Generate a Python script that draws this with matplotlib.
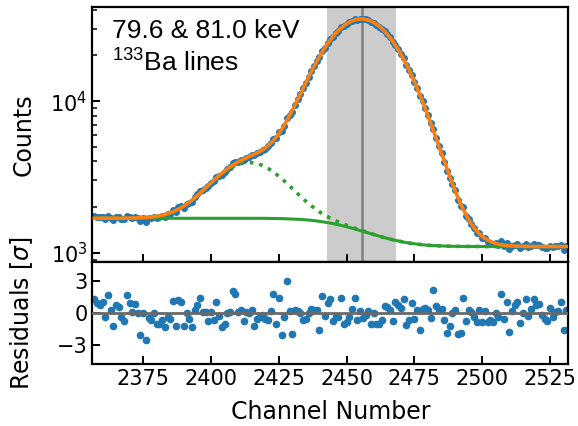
import numpy as np
import matplotlib.pyplot as plt

plt.rcParams['mathtext.fontset'] = 'custom'
plt.rcParams['mathtext.rm'] = 'Liberation Sans'

# channels 2357 ... 2531
channel = np.arange(2357, 2532)

# total fit (orange)
fit_total = np.array([1690] * 11 + [
    1692, 1693, 1694, 1696, 1697, 1700, 1702, 1706, 1711, 1716,
    1723, 1732, 1742, 1755, 1771, 1789, 1811, 1836, 1866, 1900,
    1940, 1985, 2036, 2093, 2156, 2226, 2304, 2388, 2478, 2573,
    2675, 2781, 2890, 3003, 3117, 3232, 3347, 3460, 3571, 3678,
    3780, 3878, 3972, 4059, 4143, 4224, 4302, 4382, 4466, 4555,
    4656, 4773, 4909, 5073, 5267, 5500, 5776, 6104, 6489, 6938,
    7452, 8041, 8707, 9454, 10285, 11198, 12192, 13267, 14417, 15639,
    16923, 18260, 19638, 21044, 22468, 23889, 25296, 26663, 27980, 29225,
    30383, 31437, 32369, 33167, 33818, 34309, 34635, 34791, 34772, 34578,
    34213, 33682, 32993, 32154, 31181, 30087, 28888, 27599, 26238, 24823,
    23369, 21896, 20418, 18952, 17511, 16107, 14752, 13454, 12222, 11059,
    9972, 8962, 8029, 7176, 6400, 5700, 5072, 4510, 4012, 3575,
    3191, 2858, 2572, 2324, 2113, 1934, 1784, 1657, 1551, 1464,
    1392, 1332, 1284, 1246, 1214, 1189, 1169, 1154, 1141, 1132,
    1124, 1118, 1114, 1110, 1108, 1106, 1104, 1103, 1102, 1101,
] + [1100] * 14, dtype=float)

# step background (green solid)
background = np.array([1690] * 56 + [
    1690, 1689, 1689, 1689, 1688, 1688, 1688, 1687, 1686, 1686,
    1685, 1683, 1682, 1680, 1679, 1676, 1674, 1671, 1668, 1664,
    1660, 1655, 1650, 1644, 1637, 1630, 1622, 1613, 1603, 1593,
    1582, 1571, 1558, 1545, 1531, 1517, 1502, 1486, 1470, 1454,
    1437, 1420, 1403, 1387, 1369, 1353, 1336, 1320, 1304, 1288,
    1273, 1259, 1245, 1232, 1219, 1208, 1197, 1187, 1177, 1168,
    1160, 1153, 1147, 1141, 1135, 1130, 1126, 1122, 1119, 1116,
    1114, 1112, 1110, 1108, 1107, 1105, 1104, 1104, 1103, 1102,
    1102, 1102, 1101, 1101, 1101, 1101,
] + [1100] * 33, dtype=float)

# background + 79.6 keV line (green dotted)
low_line = np.array([1690] * 11 + [
    1692, 1693, 1694, 1696, 1697, 1700, 1702, 1706, 1711, 1716,
    1723, 1732, 1742, 1755, 1771, 1789, 1811, 1836, 1866, 1900,
    1940, 1985, 2036, 2093, 2156, 2226, 2303, 2386, 2475, 2569,
    2669, 2773, 2880, 2989, 3099, 3208, 3315, 3419, 3517, 3609,
    3691, 3764, 3826, 3875, 3911, 3933, 3939, 3932, 3910, 3873,
    3824, 3762, 3688, 3605, 3513, 3414, 3308, 3200, 3089, 2978,
    2866, 2757, 2650, 2547, 2449, 2356, 2268, 2186, 2110, 2040,
    1976, 1917, 1863, 1813, 1769, 1728, 1692, 1657, 1626, 1596,
    1569, 1544, 1519, 1496, 1475, 1453, 1432, 1413, 1394, 1375,
    1357, 1339, 1322,
    1304, 1288, 1273, 1259, 1245, 1232, 1219, 1208, 1197, 1187,
    1177, 1168, 1160, 1153, 1147, 1141, 1135, 1130, 1126, 1122,
    1119, 1116, 1114, 1112, 1110, 1108, 1107, 1105, 1104, 1104,
    1103, 1102, 1102, 1102, 1101, 1101, 1101, 1101,
] + [1100] * 33, dtype=float)

# residuals in units of sigma
resid = np.array([
    1.3, 0.9, 0.75, 1.05, -0.4, 1.65, 0.3, -1.25, 0.75, 0.6,
    -0.4, -0.8, 1.65, 0.9, 0.1, 0.8, -0.05, -2.1, -0.05, -2.6,
    -0.5, -0.65, -0.05, -1.0, -1.0, -0.7, -1.35, -0.4,
    -0.55, 1.1, -1.25, 1.2, 1.05, -1.2, 0.0, -0.6, -1.3, 0.25,
    0.75, 1.4, 0.05, 0.05, -0.8, 0.1, -0.65, 1.0, -0.3, -1.3,
    -1.0, -0.05, 0.1, 2.1, 1.8, 0.1, 0.3, -0.8, 0.1, 0.0,
    0.25, -1.2, -0.55, -0.4, -0.2, -0.55, -0.7, 0.2, 1.8, -1.0,
    1.4, -2.05, -0.4, 3.0, 0.2, -1.95, 0.25, 0.2, -0.05, -0.65,
    -0.55, -0.05, 0.4, 0.3, 0.25, -1.6, 1.55, -0.3, 0.9, 1.3,
    -0.8, -0.3, -0.4, 1.4, -1.0, -0.9, -0.4, 0.4, 1.4, -0.7,
    0.2, -0.5, -0.2, 0.15, -1.0, 0.0, -1.05, -1.0, -0.7, 0.65,
    0.6, 0.3, -0.8, 1.05, 0.75, 0.5, 1.3, -1.1, -0.7,
    0.9, -0.55, 0.3, -1.6, 0.4, 0.5, 0.3, -0.45, 2.2, 0.65,
    0.3, 0.4, -0.65, -1.85, -1.2, 0.0, 0.3, -2.0, -1.9, 1.4,
    -0.8, 0.25, 0.1, -0.4, -0.9, 0.3, -0.9, 0.2, -0.9, -0.7,
    -0.9, 0.0, -0.4, 1.8, -0.55, 1.05, -1.8, 0.2, 0.75, 1.05,
    -0.95, 0.0, 1.3, -0.3, 0.4, 1.3, 0.75, 0.85, -0.2, -0.55,
    -0.8, 0.5, -0.4, 0.1, 0.2, 1.0, -1.6, 0.3,
])

# measured counts = fit + residual * sqrt(fit)
counts = fit_total + resid * np.sqrt(fit_total)

peak_center = 2455.7
roi = (2442.7, 2468.3)

fig = plt.figure(figsize=(5.78, 4.26), dpi=100)
ax = fig.add_axes([0.160, 0.385, 0.823, 0.598])
axr = fig.add_axes([0.160, 0.146, 0.823, 0.239], sharex=ax)

ax.axvspan(roi[0], roi[1], color='gray', alpha=0.4, lw=0, zorder=0)
ax.axvline(peak_center, color='gray', lw=1.8, zorder=1)
ax.plot(channel, counts, 'o', ms=4, color='C0', zorder=2)
ax.plot(channel, low_line, ':', color='C2', lw=2.6, zorder=3)
ax.plot(channel, background, '-', color='C2', lw=2.2, zorder=4)
ax.plot(channel, fit_total, '-', color='C1', lw=2.6, zorder=5)
ax.set_yscale('log')
ax.set_ylim(870, 41600)
ax.set_xlim(2356.3, 2531.7)
ax.set_ylabel('Counts', fontsize=17)
ax.text(0.04, 0.955, '79.6 & 81.0 keV\n$^{133}$Ba lines', transform=ax.transAxes,
        va='top', ha='left', fontsize=19, family='Liberation Sans')

axr.plot(channel, resid, 'o', ms=4.5, color='C0', zorder=2)
axr.axhline(0, color='dimgray', lw=2, zorder=3)
axr.set_ylim(-4.8, 4.8)
axr.set_yticks([-3, 0, 3])
axr.set_xticks(np.arange(2375, 2526, 25))
axr.set_ylabel('Residuals [$\\sigma$]', fontsize=17)
axr.set_xlabel('Channel Number', fontsize=17, labelpad=8)

for a in (ax, axr):
    a.tick_params(which='major', direction='in', length=6, width=1.4, labelsize=15)
    a.tick_params(which='minor', direction='in', length=3.5, width=1.1)
    for s in a.spines.values():
        s.set_linewidth(1.6)
    a.yaxis.set_label_coords(-0.12, 0.5)
ax.tick_params(labelbottom=False)

fig.savefig('out.png', dpi=100)
